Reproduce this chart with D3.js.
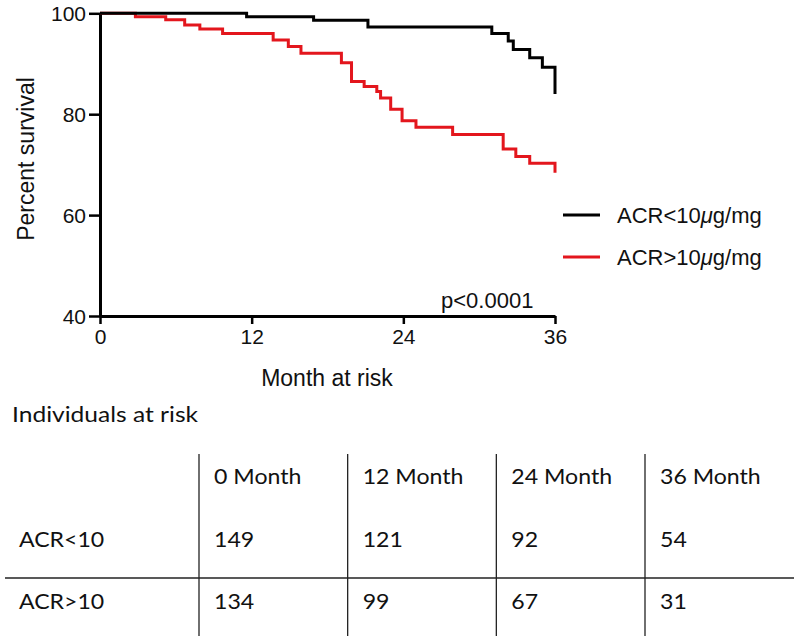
<!DOCTYPE html>
<html><head><meta charset="utf-8">
<script src="https://cdn.jsdelivr.net/npm/d3@7"></script>
<style>body{margin:0;background:#fff}svg{display:block}</style>
</head><body>
<svg id="c" width="800" height="642"></svg>
<script>
// ---- data ----
const xTicks = [0, 12, 24, 36];
const yTicks = [40, 60, 80, 100];
const seriesNames = ["ACR<10", "ACR>10"];
const lowTimes = [0, 11.6, 16.9, 21.2, 31.0, 32.3, 32.7, 34.0, 35.0, 36];
const lowSurv  = [100, 99.3, 98.6, 97.3, 96.0, 94.5, 92.8, 91.2, 89.3, 84.0];
const highTimes = [0, 2.8, 5.2, 6.7, 7.9, 9.7, 13.7, 14.9, 15.9, 19.1, 19.9, 20.9, 21.9, 22.2, 23.0, 23.9, 25.0, 27.9, 31.9, 32.9, 34.0, 36];
const highSurv  = [100, 99.3, 98.7, 97.7, 96.9, 96.0, 94.7, 93.4, 92.1, 90.2, 86.5, 85.5, 84.5, 83.2, 81.0, 78.7, 77.4, 76.0, 73.1, 71.6, 70.3, 68.4];
const pText = "p<0.0001";
const tableTitle = "Individuals at risk";
const tableCols = ["0 Month", "12 Month", "24 Month", "36 Month"];
const tableRows = ["ACR<10", "ACR>10"];
const atRiskLow  = [149, 121, 92, 54];
const atRiskHigh = [134, 99, 67, 31];

// ---- chart ----
const svg = d3.select("#c");
const chartFont = "'Liberation Sans', Arial, Helvetica, sans-serif";
const x = d3.scaleLinear().domain([0, 36]).range([100, 555]);
const y = d3.scaleLinear().domain([40, 100]).range([316, 13.3]);
const RED = "#e3161d";

const series = [
  {name: seriesNames[0], color: "#000", pts: lowTimes.map((t, i) => [t, lowSurv[i]])},
  {name: seriesNames[1], color: RED, pts: highTimes.map((t, i) => [t, highSurv[i]])}
];

const line = d3.line().x(d => x(d[0])).y(d => y(d[1])).curve(d3.curveStepAfter);

// axes
const yAxis = svg.append("g").attr("transform", `translate(${x(0)},0)`)
  .call(d3.axisLeft(y).tickValues(yTicks).tickSize(11).tickPadding(3).tickSizeOuter(0));
const xAxis = svg.append("g").attr("transform", `translate(0,${y(40)})`)
  .call(d3.axisBottom(x).tickValues(xTicks).tickSize(8).tickPadding(5).tickSizeOuter(0));
[yAxis, xAxis].forEach(g => {
  g.select(".domain").attr("stroke", "#000").attr("stroke-width", 3);
  g.selectAll(".tick line").attr("stroke", "#000").attr("stroke-width", 2.5);
  g.selectAll(".tick text").attr("fill", "#111").style("font-family", chartFont).style("font-size", "21px");
});
yAxis.selectAll(".tick text").attr("dy", "0.36em");

// curves (red first, black on top)
svg.append("g").selectAll("path").data([series[1], series[0]]).join("path")
  .attr("d", d => line(d.pts))
  .attr("fill", "none").attr("stroke", d => d.color).attr("stroke-width", 3)
  .attr("stroke-linejoin", "miter");

// axis labels
svg.append("text").attr("transform", `translate(34,159) rotate(-90)`)
  .attr("text-anchor", "middle").style("font-family", chartFont).style("font-size", "23px").attr("fill", "#111")
  .text("Percent survival");
svg.append("text").attr("x", 327).attr("y", 386)
  .attr("text-anchor", "middle").style("font-family", chartFont).style("font-size", "23px").attr("fill", "#111")
  .text("Month at risk");

// p-value
svg.append("text").attr("x", 441).attr("y", 308)
  .style("font-family", chartFont).style("font-size", "22px").attr("fill", "#111").text(pText);

// legend
const leg = svg.append("g").selectAll("g").data(series).join("g")
  .attr("transform", (d, i) => `translate(0,${215 + i * 42})`);
leg.append("line").attr("x1", 563).attr("x2", 600).attr("y1", 0).attr("y2", 0)
  .attr("stroke", d => d.color).attr("stroke-width", 3);
const lt = leg.append("text").attr("x", 617).attr("y", 8)
  .style("font-family", chartFont).style("font-size", "22px").attr("fill", "#111");
lt.append("tspan").text(d => d.name);
lt.append("tspan").style("font-style", "italic").text("μ");
lt.append("tspan").text("g/mg");

// ---- table ----
const tFont = "Lato, 'Open Sans', sans-serif";
const colX = d3.scalePoint().domain(tableCols).range([199, 645]);
function ttext(g, tx, ty, s, sx) {
  return g.append("text").attr("transform", `translate(${tx},${ty}) scale(${sx || 1.1},1)`)
    .style("font-family", tFont).style("font-size", "21px").attr("fill", "#111").text(s);
}
const tg = svg.append("g");
ttext(tg, 12, 422, tableTitle, 1.17);
tableCols.forEach(c => {
  tg.append("line").attr("x1", colX(c)).attr("x2", colX(c)).attr("y1", 454).attr("y2", 636)
    .attr("stroke", "#222").attr("stroke-width", 1.3);
  ttext(tg, colX(c) + 15, 484, c);
});
tg.append("line").attr("x1", 5).attr("x2", 794).attr("y1", 578).attr("y2", 578)
  .attr("stroke", "#222").attr("stroke-width", 1.3);
const rowY = [547, 609];
[atRiskLow, atRiskHigh].forEach((vals, r) => {
  ttext(tg, 19, rowY[r], tableRows[r]);
  vals.forEach((v, i) => ttext(tg, colX(tableCols[i]) + 15, rowY[r], String(v)));
});
</script>
</body></html>
